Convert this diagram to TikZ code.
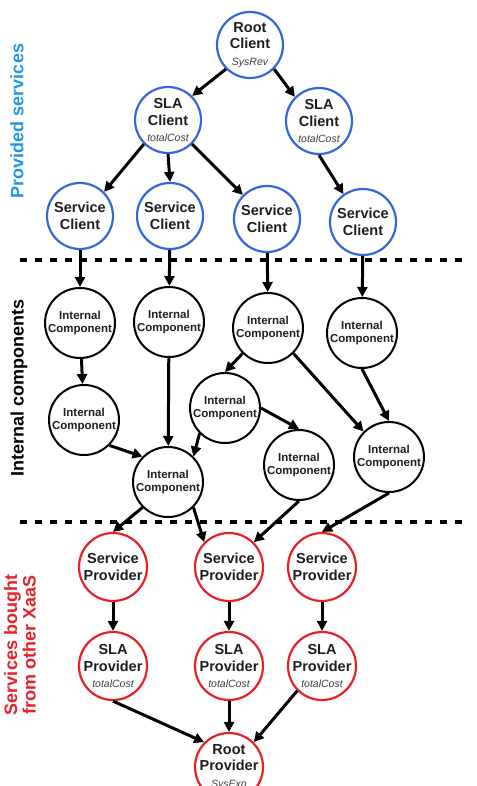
\documentclass[tikz,border=0pt]{standalone}
\usepackage{fontspec}
\setmainfont{Liberation Sans}
\usetikzlibrary{arrows.meta}
\definecolor{cblue}{RGB}{51,102,221}
\definecolor{lblue}{RGB}{34,150,225}
\definecolor{pred}{RGB}{232,32,40}
\definecolor{txt}{RGB}{30,30,30}
\newcommand{\costlabel}[1]{{\mdseries\itshape\fontsize{10.5}{12}\selectfont\color{darkgray}#1}}

\begin{document}
\begin{tikzpicture}[x=1pt,y=-1pt,
        base/.style={circle, fill=white, line width=2.2pt, minimum size=66pt, inner xsep=-6pt, inner ysep=0pt,
          align=center, text=txt, font=\bfseries\fontsize{14.5}{16.5}\selectfont},
        client/.style={base, draw=cblue},
        provider/.style={base, draw=pred, minimum size=68pt},
        comp/.style={base, draw=black, line width=2pt, minimum size=70pt, font=\bfseries\fontsize{11.5}{13}\selectfont},
        arr/.style={-{Triangle[length=10pt,width=10pt]}, line width=3pt},
        sepline/.style={line width=4pt, dash pattern=on 7pt off 8pt},
        side/.style={rotate=90, align=center, font=\bfseries\fontsize{18}{18.5}\selectfont}]
        \useasboundingbox (0,0) rectangle (476,786);
        \clip (0,0) rectangle (476,786);
        \draw[sepline] (20,260) -- (466,260);
        \draw[sepline] (20,522) -- (466,522);
        \node[side, text=lblue] (lprov) at (17,121) {Provided services};
        \node[side, text=black] (lint) at (19,388) {Internal components};
        \node[side, text=pred] (lbuy) at (20,645) {Services bought\\from other XaaS};
        \node[client] (rc) at (250,45) {Root\\Client\\\costlabel{SysRev}};
        \node[client] (slal) at (168,120) {SLA\\Client\\\costlabel{totalCost}};
        \node[client] (slar) at (319,121) {SLA\\Client\\\costlabel{totalCost}};
        \node[client] (sc1) at (80,216) {Service\\Client};
        \node[client] (sc2) at (170,216) {Service\\Client};
        \node[client] (sc3) at (267,219) {Service\\Client};
        \node[client] (sc4) at (363,222) {Service\\Client};
        \node[comp] (ic1) at (80,323) {Internal\\Component};
        \node[comp] (ic2) at (169,322) {Internal\\Component};
        \node[comp] (ic3) at (268,328) {Internal\\Component};
        \node[comp] (ic4) at (362,333) {Internal\\Component};
        \node[comp] (ic5) at (84,420) {Internal\\Component};
        \node[comp] (ic6) at (225,408) {Internal\\Component};
        \node[comp] (ic7) at (168,482) {Internal\\Component};
        \node[comp] (ic8) at (299,465) {Internal\\Component};
        \node[comp] (ic9) at (389,457) {Internal\\Component};
        \node[provider] (sp1) at (113,567) {Service\\Provider};
        \node[provider] (sp2) at (229,567) {Service\\Provider};
        \node[provider] (sp3) at (322,567) {Service\\Provider};
        \node[provider] (slap1) at (113,666) {SLA\\Provider\\\costlabel{totalCost}};
        \node[provider] (slap2) at (229,666) {SLA\\Provider\\\costlabel{totalCost}};
        \node[provider] (slap3) at (322,666) {SLA\\Provider\\\costlabel{totalCost}};
        \node[provider] (rp) at (229,767) {Root\\Provider\\\costlabel{SysExp}};
        \draw[arr] (rc.south west) -- (slal.north east);
        \draw[arr] (rc.south east) -- (slar.north west);
        \draw[arr] (slal.south west) -- (sc1.north east);
        \draw[arr] (slal.south) -- (sc2.north);
        \draw[arr] (slal.south east) -- (sc3.north west);
        \draw[arr] (slar.south) -- (sc4.125);
        \draw[arr] (sc1) -- (ic1);
        \draw[arr] (sc2) -- (ic2);
        \draw[arr] (sc3) -- (ic3);
        \draw[arr] (sc4) -- (ic4);
        \draw[arr] (ic1) -- (ic5);
        \draw[arr] (ic5.south east) -- (ic7.north west);
        \draw[arr] (ic2) -- (ic7);
        \draw[arr] (ic3.south west) -- (ic6.north);
        \draw[arr] (ic3.south east) -- (ic9.north west);
        \draw[arr] (ic6.south west) -- (ic7.north east);
        \draw[arr] (ic6.east) -- (ic8.north);
        \draw[arr] (ic4.south) -- (ic9.north);
        \draw[arr] (ic7.south west) -- (sp1.north);
        \draw[arr] (ic7.south east) -- (sp2.north west);
        \draw[arr] (ic8.south) -- (sp2.north east);
        \draw[arr] (ic9.south) -- (sp3.north);
        \draw[arr] (sp1) -- (slap1);
        \draw[arr] (sp2) -- (slap2);
        \draw[arr] (sp3) -- (slap3);
        \draw[arr] (slap1.south) -- (rp.north west);
        \draw[arr] (slap2) -- (rp);
        \draw[arr] (slap3.south west) -- (rp.north east);
\end{tikzpicture}
\end{document}
